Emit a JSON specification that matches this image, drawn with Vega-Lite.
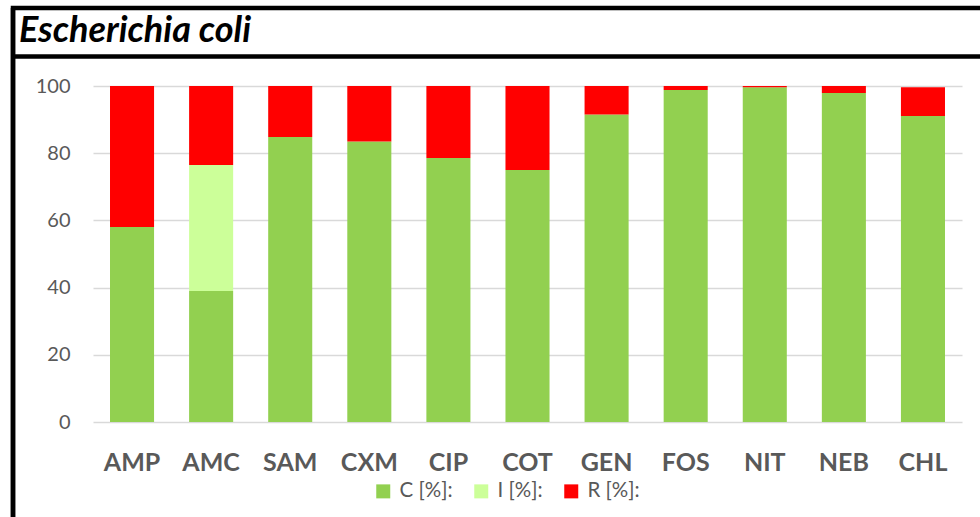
{
  "$schema": "https://vega.github.io/schema/vega-lite/v6.json",
  "width": 1000,
  "height": 520,
  "autosize": {"type": "none"},
  "padding": {"left": 13, "top": 8, "right": 0, "bottom": 0},
  "background": "white",
  "view": {"stroke": "#000000", "strokeWidth": 4.5, "fill": "white"},
  "title": {"text": "Escherichia coli", "orient": "top", "anchor": "start", "frame": "group", "offset": -72, "dx": 6, "font": "Lato", "fontSize": 36, "fontStyle": "italic", "fontWeight": "bold", "color": "#000000", "baseline": "alphabetic"},
  "resolve": {"scale": {"x": "independent"}, "axis": {"x": "independent"}},
  "layer": [
    {
      "data": {"values": [
        {"antibiotic": "AMP", "category": "C [%]:", "value": 58.0},
        {"antibiotic": "AMP", "category": "R [%]:", "value": 42.0},
        {"antibiotic": "AMC", "category": "C [%]:", "value": 39.0},
        {"antibiotic": "AMC", "category": "I [%]:", "value": 37.5},
        {"antibiotic": "AMC", "category": "R [%]:", "value": 23.5},
        {"antibiotic": "SAM", "category": "C [%]:", "value": 84.8},
        {"antibiotic": "SAM", "category": "R [%]:", "value": 15.2},
        {"antibiotic": "CXM", "category": "C [%]:", "value": 83.5},
        {"antibiotic": "CXM", "category": "R [%]:", "value": 16.5},
        {"antibiotic": "CIP", "category": "C [%]:", "value": 78.6},
        {"antibiotic": "CIP", "category": "R [%]:", "value": 21.4},
        {"antibiotic": "COT", "category": "C [%]:", "value": 75.0},
        {"antibiotic": "COT", "category": "R [%]:", "value": 25.0},
        {"antibiotic": "GEN", "category": "C [%]:", "value": 91.5},
        {"antibiotic": "GEN", "category": "R [%]:", "value": 8.5},
        {"antibiotic": "FOS", "category": "C [%]:", "value": 98.8},
        {"antibiotic": "FOS", "category": "R [%]:", "value": 1.2},
        {"antibiotic": "NIT", "category": "C [%]:", "value": 99.6},
        {"antibiotic": "NIT", "category": "R [%]:", "value": 0.4},
        {"antibiotic": "NEB", "category": "C [%]:", "value": 97.9},
        {"antibiotic": "NEB", "category": "R [%]:", "value": 2.1},
        {"antibiotic": "CHL", "category": "C [%]:", "value": 91.1},
        {"antibiotic": "CHL", "category": "R [%]:", "value": 8.5}
      ]},
      "mark": {"type": "bar"},
      "encoding": {
        "x": {"field": "antibiotic", "type": "nominal", "sort": null,
          "scale": {"range": [80, 949], "paddingInner": 0.443, "paddingOuter": 0.215},
          "axis": {"orient": "bottom", "offset": -106, "title": null, "labelAngle": 0, "domain": false, "ticks": false, "grid": false,
            "labelFont": "Lato", "labelFontSize": 25, "labelFontWeight": "bold", "labelColor": "#595959", "labelPadding": 28}},
        "y": {"field": "value", "type": "quantitative", "stack": "zero",
          "scale": {"domain": [0, 100], "range": [414, 78], "nice": false},
          "axis": {"orient": "left", "offset": -80, "title": null, "values": [0, 20, 40, 60, 80, 100], "domain": false, "ticks": false,
            "labelPadding": 23, "labelFont": "Lato", "labelFontSize": 20, "labelColor": "#595959", "gridColor": "#d9d9d9", "gridWidth": 1.3}},
        "order": {"field": "category", "sort": "ascending"},
        "color": {"field": "category", "type": "nominal",
          "scale": {"domain": ["C [%]:", "I [%]:", "R [%]:"], "range": ["#92d050", "#ccff99", "#ff0000"]},
          "legend": {"orient": "none", "legendX": 360, "legendY": 473, "direction": "horizontal", "title": null,
            "symbolType": "square", "symbolSize": 196, "symbolStrokeWidth": 0, "labelFont": "Lato", "labelFontSize": 20.5,
            "labelColor": "#595959", "labelOffset": 6, "columnPadding": 18, "padding": 0}}
      }
    },
    {
      "data": {"values": [{"edge": 0}]},
      "mark": {"type": "rule", "color": "#000000", "strokeWidth": 4.5},
      "encoding": {
        "x": {"field": "edge", "type": "quantitative", "scale": {"domain": [0, 1]},
          "axis": {"orient": "top", "offset": -48, "title": null, "labels": false, "ticks": false, "grid": false,
            "domainColor": "#000000", "domainWidth": 4.5}}
      }
    }
  ]
}
